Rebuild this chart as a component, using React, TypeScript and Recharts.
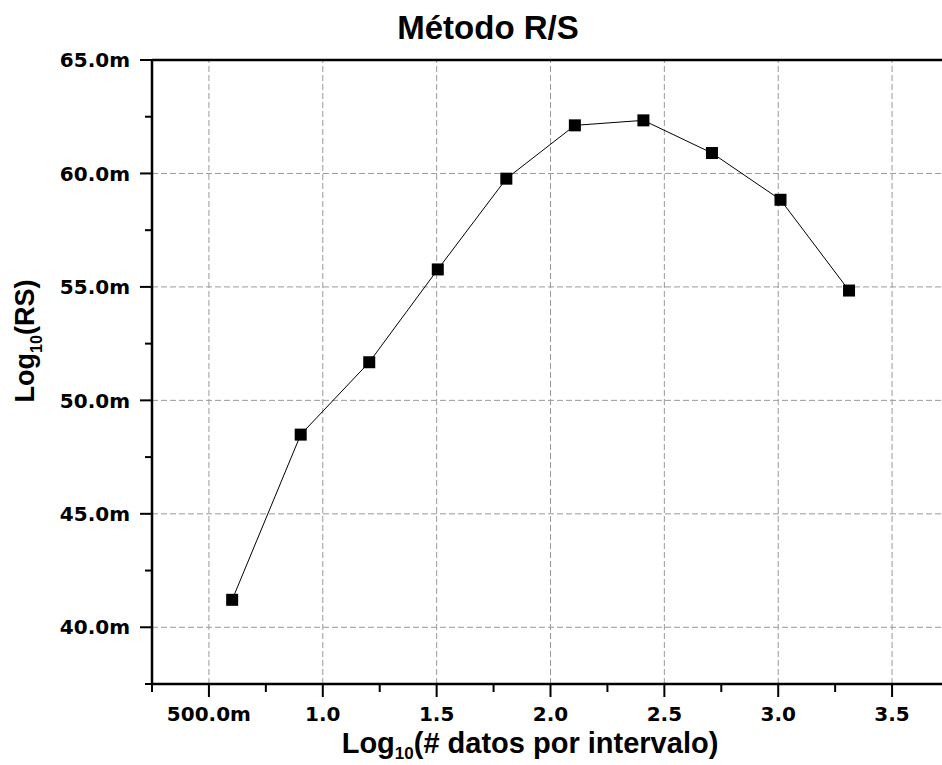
import React from "react";
import { LineChart, Line, XAxis, YAxis, ReferenceLine, Customized } from "recharts";

// Data: log10(points per interval) vs log10(R/S)
const xValues = [0.602, 0.903, 1.204, 1.505, 1.806, 2.107, 2.408, 2.709, 3.01, 3.311];
const yValues = [0.04121, 0.04849, 0.05168, 0.05577, 0.05977, 0.06212, 0.06234, 0.0609, 0.05884, 0.05484];

const xMajorTicks = [0.5, 1.0, 1.5, 2.0, 2.5, 3.0, 3.5];
const xMinorTicks = [0.25, 0.75, 1.25, 1.75, 2.25, 2.75, 3.25, 3.75];
const yMajorTicks = [0.04, 0.045, 0.05, 0.055, 0.06, 0.065];
const yMinorTicks = [0.0375, 0.0425, 0.0475, 0.0525, 0.0575, 0.0625];

const xGridValues = [0.5, 1.0, 1.5, 2.0, 2.5, 3.0, 3.5];
const yGridValues = [0.04, 0.045, 0.05, 0.055, 0.06];

const titleText = "Método R/S";
const xLabelMain = "Log";
const xLabelSub = "10";
const xLabelRest = "(# datos por intervalo)";
const yLabelMain = "Log";
const yLabelSub = "10";
const yLabelRest = "(RS)";

const data = xValues.map((x, i) => ({ x, y: yValues[i] }));

const xAllTicks = [...xMajorTicks, ...xMinorTicks].sort((a, b) => a - b);
const yAllTicks = [...yMajorTicks, ...yMinorTicks].sort((a, b) => a - b);

const near = (arr: number[], v: number) => arr.some((a) => Math.abs(a - v) < 1e-6);

const fmtX = (v: number) => (v < 1 ? (v * 1000).toFixed(1) + "m" : v.toFixed(1));
const fmtY = (v: number) => (v * 1000).toFixed(1) + "m";

const tickFont = "'DejaVu Sans', sans-serif";
const labelFont = "'Liberation Sans', Arial, sans-serif";

const YTick = (props: any) => {
  const { x, y, payload } = props;
  const major = near(yMajorTicks, payload.value);
  return (
    <g>
      <line x1={x} x2={x - (major ? 12 : 7)} y1={y} y2={y} stroke="#000" strokeWidth={2} />
      {major && (
        <text
          x={x - 22}
          y={y}
          dy="0.36em"
          textAnchor="end"
          fontFamily={tickFont}
          fontWeight="bold"
          fontSize={20}
          fill="#000"
        >
          {fmtY(payload.value)}
        </text>
      )}
    </g>
  );
};

const XTick = (props: any) => {
  const { x, y, payload } = props;
  const major = near(xMajorTicks, payload.value);
  return (
    <g>
      <line x1={x} x2={x} y1={y} y2={y + (major ? 13 : 8)} stroke="#000" strokeWidth={2} />
      {major && (
        <text
          x={x}
          y={y + 37}
          textAnchor="middle"
          fontFamily={tickFont}
          fontWeight="bold"
          fontSize={20}
          fill="#000"
        >
          {fmtX(payload.value)}
        </text>
      )}
    </g>
  );
};

const SquareDot = (props: any) => {
  const { cx, cy } = props;
  if (cx == null || cy == null) return null;
  return <rect x={cx - 6} y={cy - 6} width={12} height={12} fill="#000" />;
};

const Texts = () => (
  <g>
    <text
      x={488}
      y={39}
      textAnchor="middle"
      fontFamily={labelFont}
      fontWeight="bold"
      fontSize={33}
      fill="#000"
    >
      {titleText}
    </text>
    <text
      x={530}
      y={753}
      textAnchor="middle"
      fontFamily={labelFont}
      fontWeight="bold"
      fontSize={29}
      fill="#000"
    >
      <tspan>{xLabelMain}</tspan>
      <tspan fontSize={17} dy={6}>{xLabelSub}</tspan>
      <tspan dy={-6}>{xLabelRest}</tspan>
    </text>
    <text
      x={34}
      y={341}
      transform="rotate(-90 34 341)"
      textAnchor="middle"
      fontFamily={labelFont}
      fontWeight="bold"
      fontSize={27}
      fill="#000"
    >
      <tspan>{yLabelMain}</tspan>
      <tspan fontSize={16} dy={8}>{yLabelSub}</tspan>
      <tspan dy={-8}>{yLabelRest}</tspan>
    </text>
  </g>
);

export default function App() {
  return (
    <div
      style={{
        position: "absolute",
        left: 0,
        top: 0,
        width: 942,
        height: 765,
        overflow: "hidden",
        background: "#fff",
      }}
    >
      <LineChart
        width={960}
        height={765}
        data={data}
        margin={{ top: 60, right: 11, bottom: 0, left: 0 }}
      >
        <XAxis
          dataKey="x"
          type="number"
          domain={[0.25, 3.75]}
          ticks={xAllTicks}
          interval={0}
          height={81}
          tickSize={0}
          tickMargin={0}
          tickLine={false}
          tick={<XTick />}
          axisLine={{ stroke: "#000", strokeWidth: 2.5 }}
          allowDataOverflow
        />
        <YAxis
          dataKey="y"
          type="number"
          domain={[0.0375, 0.065]}
          ticks={yAllTicks}
          interval={0}
          width={152}
          tickSize={0}
          tickMargin={0}
          tickLine={false}
          tick={<YTick />}
          axisLine={{ stroke: "#000", strokeWidth: 2.5 }}
          allowDataOverflow
        />
        {xGridValues.map((v) => (
          <ReferenceLine key={"gx" + v} x={v} stroke="#9a9a9a" strokeWidth={1} strokeDasharray="6 3" />
        ))}
        {yGridValues.map((v) => (
          <ReferenceLine key={"gy" + v} y={v} stroke="#9a9a9a" strokeWidth={1} strokeDasharray="6 3" />
        ))}
        <ReferenceLine y={0.065} stroke="#000" strokeWidth={2.5} />
        <Line
          type="linear"
          dataKey="y"
          stroke="#000"
          strokeWidth={1}
          dot={<SquareDot />}
          activeDot={false}
          isAnimationActive={false}
        />
        <Customized component={Texts} />
      </LineChart>
    </div>
  );
}
